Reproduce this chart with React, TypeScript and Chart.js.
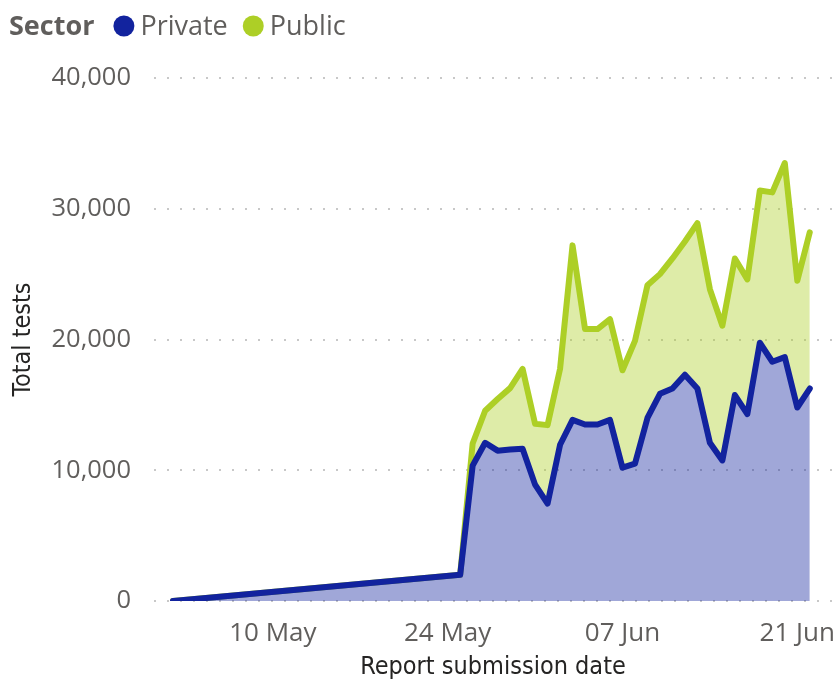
import React, { useEffect, useRef } from "react";
import { Chart, registerables } from "chart.js";

Chart.register(...registerables);

// ---- data ----
const dates = [
  "2020-05-02", "2020-05-25", "2020-05-26", "2020-05-27", "2020-05-28", "2020-05-29",
  "2020-05-30", "2020-05-31", "2020-06-01", "2020-06-02", "2020-06-03", "2020-06-04",
  "2020-06-05", "2020-06-06", "2020-06-07", "2020-06-08", "2020-06-09", "2020-06-10",
  "2020-06-11", "2020-06-12", "2020-06-13", "2020-06-14", "2020-06-15", "2020-06-16",
  "2020-06-17", "2020-06-18", "2020-06-19", "2020-06-20", "2020-06-21", "2020-06-22",
];
const privateTests = [
  0, 2000, 10350, 12100, 11500, 11580, 11650, 8900, 7450, 11950, 13850, 13500,
  13500, 13850, 10200, 10500, 14000, 15850, 16250, 17300, 16250, 12100, 10750, 15750,
  14300, 19750, 18300, 18650, 14800, 16250,
];
const publicTests = [
  0, 0, 1700, 2450, 3950, 4700, 6100, 4650, 6000, 5800, 13350, 7300,
  7300, 7700, 7450, 9400, 10150, 9150, 9950, 10200, 12650, 11750, 10300, 10450,
  10300, 11650, 12950, 14850, 9700, 11950,
];
const seriesNames = ["Private", "Public"];
const legendTitle = "Sector";
const tickDates = ["2020-05-10", "2020-05-24", "2020-06-07", "2020-06-21"];
const tickLabels = ["10 May", "24 May", "07 Jun", "21 Jun"];
const yTickValues = [0, 10000, 20000, 30000, 40000];
const xTitle = "Report submission date";
const yTitle = "Total tests";

const BASE = Date.UTC(2020, 4, 1);
const toDay = (s: string) => {
  const [y, m, d] = s.split("-").map(Number);
  return (Date.UTC(y, m - 1, d) - BASE) / 86400000;
};

const BLUE = "#12239E";
const GREEN = "#ADCF26";
const TICK_FONT = "'Open Sans', 'Noto Sans', sans-serif";
const TITLE_FONT = "'DejaVu Sans Condensed', 'DejaVu Sans', sans-serif";

const legendPlugin = {
  id: "inlineLegend",
  afterDraw(chart: any) {
    const ctx = chart.ctx as CanvasRenderingContext2D;
    ctx.save();
    ctx.textBaseline = "middle";
    ctx.textAlign = "left";
    const y = 27;
    let x = 9;
    ctx.fillStyle = "#605E5C";
    ctx.font = `bold 27px ${TICK_FONT}`;
    ctx.fillText(legendTitle, x, y);
    x += ctx.measureText(legendTitle).width + 19;
    ctx.font = `27px ${TICK_FONT}`;
    chart.data.datasets.forEach((ds: any) => {
      const r = 10.5;
      ctx.beginPath();
      ctx.fillStyle = ds.borderColor;
      ctx.arc(x + r, y - 1, r, 0, Math.PI * 2);
      ctx.fill();
      x += 2 * r + 6;
      ctx.fillStyle = "#605E5C";
      ctx.fillText(ds.label, x, y);
      x += ctx.measureText(ds.label).width + 15;
    });
    ctx.restore();
  },
};

export default function App() {
  const ref = useRef<HTMLCanvasElement | null>(null);
  useEffect(() => {
    document.body.style.margin = "0";
    if (!ref.current) return;
    const days = dates.map(toDay);
    const tickDays = tickDates.map(toDay);
    const chart = new Chart(ref.current, {
      type: "line",
      data: {
        datasets: [
          {
            label: seriesNames[0],
            data: days.map((d, i) => ({ x: d, y: privateTests[i] })),
            borderColor: BLUE,
            backgroundColor: "rgba(18,35,158,0.4)",
            borderWidth: 6,
            borderJoinStyle: "round",
            borderCapStyle: "round",
            pointRadius: 0,
            fill: "origin",
            tension: 0,
          },
          {
            label: seriesNames[1],
            data: days.map((d, i) => ({ x: d, y: publicTests[i] })),
            borderColor: GREEN,
            backgroundColor: "rgba(173,207,38,0.4)",
            borderWidth: 6,
            borderJoinStyle: "round",
            borderCapStyle: "round",
            pointRadius: 0,
            fill: "-1",
            tension: 0,
          },
        ],
      },
      options: {
        animation: false,
        responsive: false,
        maintainAspectRatio: false,
        layout: { padding: { top: 78, left: 0, right: 7, bottom: 0 } },
        plugins: { legend: { display: false }, tooltip: { enabled: false } },
        scales: {
          x: {
            type: "linear",
            min: -0.52,
            max: 53.78,
            afterBuildTicks: (s: any) => {
              s.ticks = tickDays.map((v) => ({ value: v }));
            },
            afterFit: (s: any) => {
              s.height = 81;
              s.paddingLeft = 0;
              s.paddingRight = 0;
            },
            ticks: {
              autoSkip: false,
              maxRotation: 0,
              padding: 9,
              color: "#605E5C",
              font: { family: TICK_FONT, size: 26 },
              callback: (v: any) => {
                const i = tickDays.indexOf(Number(v));
                return i >= 0 ? tickLabels[i] : "";
              },
            },
            grid: { display: false },
            border: { display: false },
            title: {
              display: true,
              text: xTitle,
              color: "#252423",
              font: { family: TITLE_FONT, size: 25 },
              padding: { top: 0, bottom: 0 },
            },
          },
          y: {
            type: "linear",
            stacked: true,
            min: 0,
            max: 40000,
            afterBuildTicks: (s: any) => {
              s.ticks = yTickValues.map((v) => ({ value: v }));
            },
            afterFit: (s: any) => {
              s.width = 154;
            },
            ticks: {
              padding: 23,
              color: "#605E5C",
              font: { family: TICK_FONT, size: 25.5 },
              callback: (v: any) => Number(v).toLocaleString("en-US"),
            },
            grid: {
              color: "#C8C8C8",
              lineWidth: 2,
              drawTicks: false,
            },
            border: { display: false, dash: [2, 11] },
            title: {
              display: true,
              text: yTitle,
              color: "#252423",
              font: { family: TITLE_FONT, size: 25 },
              padding: { top: 8, bottom: 0 },
            },
          },
        },
      },
      plugins: [legendPlugin],
    } as any);
    return () => chart.destroy();
  }, []);
  return (
    <div style={{ width: 839, height: 682 }}>
      <canvas ref={ref} width={839} height={682} style={{ display: "block" }} />
    </div>
  );
}
